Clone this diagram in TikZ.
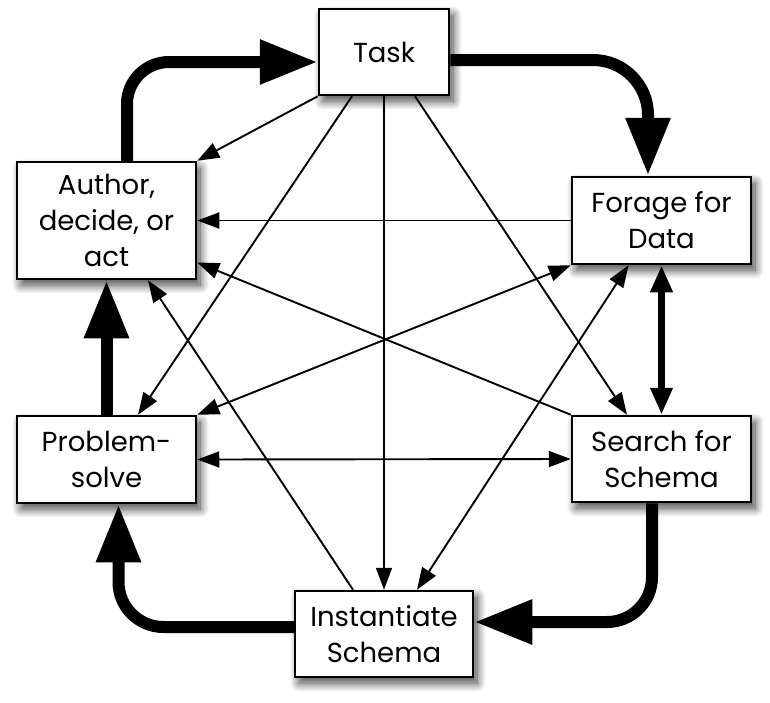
\documentclass[tikz,border=0pt]{standalone}
\usepackage{fontspec}
\setmainfont{Poppins}
\usetikzlibrary{arrows.meta,shadows.blur,calc}
\tikzset{
  box/.style={draw=black, line width=2.5pt, fill=white, align=center,
    font=\fontsize{27.5}{36}\selectfont, inner sep=0pt,
    blur shadow={shadow xshift=4pt, shadow yshift=-6pt, shadow blur steps=14, shadow blur radius=9pt, shadow opacity=75}},
  thin/.style={line width=1.9pt, -{Triangle[length=22pt,width=16pt]}},
  thinboth/.style={line width=1.9pt, {Triangle[length=22pt,width=16pt]}-{Triangle[length=22pt,width=16pt]}},
  thick/.style={line width=12pt, -{Triangle[length=58pt,width=42pt]}},
  thickboth/.style={line width=7pt, {Triangle[length=27pt,width=21pt]}-{Triangle[length=27pt,width=21pt]}}
}
\begin{document}
\begin{tikzpicture}[x=1pt,y=-1pt]
\useasboundingbox (0,0) rectangle (770,702);
\node[box, minimum width=130pt, minimum height=86pt] (task) at (384,52) {Task};
\node[box, minimum width=179pt, minimum height=117pt] (author) at (106.5,220.5) {Author,\\decide, or\\act};
\node[box, minimum width=179pt, minimum height=87pt] (forage) at (661.5,220.5) {Forage for\\Data};
\node[box, minimum width=179pt, minimum height=87pt] (problem) at (106.5,459.5) {Problem-\\solve};
\node[box, minimum width=179pt, minimum height=86pt] (search) at (661.5,459) {Search for\\Schema};
\node[box, minimum width=178pt, minimum height=86pt] (inst) at (384,634) {Instantiate\\Schema};

% thick cycle
\draw[thick, rounded corners=42pt] ([xshift=20.5pt]author.north) |- ([yshift=-10pt]task.west);
\draw[thick, rounded corners=55pt] ([yshift=-8pt]task.east) -| ([xshift=-13.5pt]forage.north);
\draw[thick, rounded corners=45pt] ([xshift=-9.5pt]search.south) |- ([yshift=12pt]inst.east);
\draw[thick, rounded corners=45pt] ([yshift=7pt]inst.west) -| ([xshift=12pt]problem.south);
\draw[thick] (problem.north) -- (author.south);
\draw[thickboth] (forage.south) -- (search.north);

% thin connectors
\draw[thin] (task.south west) -- (author.north east);
\draw[thin] ([xshift=-32pt]task.south) -- ([xshift=31.5pt]problem.north);
\draw[thin] (task.south) -- (inst.north);
\draw[thin] ([xshift=31pt]task.south) -- ([xshift=-34.5pt]search.north);
\draw[thin] (forage.west) -- (author.east);
\draw[thin] (search.north west) -- ([yshift=-42pt]author.east);
\draw[thin] ([xshift=-31pt]inst.north) -- ([xshift=41.5pt]author.south);
\draw[thinboth] (problem.north east) -- (forage.south west);
\draw[thinboth] (problem.east) -- (search.west);
\draw[thinboth] ([xshift=-33pt]forage.south) -- ([xshift=33pt]inst.north);
\end{tikzpicture}
\end{document}
